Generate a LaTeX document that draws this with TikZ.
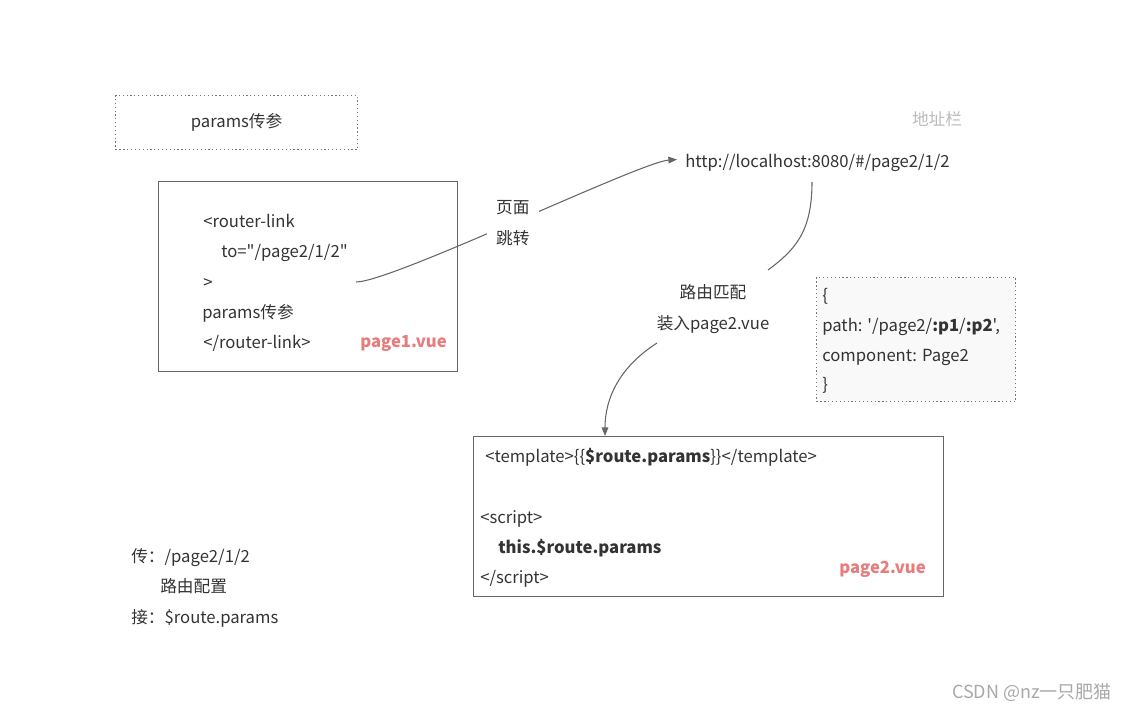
\documentclass[tikz,border=0pt]{standalone}
\usepackage{fontspec}
\setmainfont{Noto Sans CJK SC}[Ligatures=TeXOff]
\usetikzlibrary{arrows.meta}
\definecolor{txt}{HTML}{333333}
\definecolor{edgec}{HTML}{666666}
\definecolor{tagc}{HTML}{E67C7C}
\definecolor{grayc}{HTML}{BBBBBB}
\definecolor{wmc}{HTML}{A8A8A8}
\definecolor{fillc}{HTML}{F9F9F9}
\begin{document}
\begin{tikzpicture}[x=0.75pt,y=-0.75pt,
  every node/.style={font=\fontsize{12.5}{14}\selectfont, text=txt, inner sep=0pt},
  lbl/.style={anchor=base west},
  box/.style={draw=edgec, line width=0.8pt, anchor=north west},
  dotbox/.style={draw=edgec!90, dotted, line width=0.9pt, anchor=north west},
  conn/.style={draw=edgec, line width=0.8pt},
  tip/.style={-{Triangle[length=6.5pt,width=5pt]}},
  tag/.style={font=\fontsize{12.5}{14}\selectfont\bfseries, text=tagc, anchor=base west}]
\useasboundingbox (0,0) rectangle (1128,711);

% top dashed title box
\node[dotbox, minimum width=181.5pt, minimum height=40.5pt, align=center] (title) at (115,95) {params传参};

% page1 box
\node[box, minimum width=224.25pt, minimum height=142.5pt] (page1) at (158,181) {};
\node[lbl] (p1a) at (203,227) {<router-link};
\node[lbl] (p1b) at (221,257) {to="/page2/1/2"};
\node[lbl] (p1c) at (203,288) {>};
\node[lbl] (p1d) at (202,318) {params传参};
\node[lbl] (p1e) at (203,348) {</router-link>};
\node[tag] (tag1) at (360,347) {page1.vue};

% url
\node[lbl] (url) at (685,167) {http://localhost:8080/\#/page2/1/2};
\node[text=grayc] (addr) at (937,119) {地址栏};

% connector page1 -> url
\coordinate (c1) at (356,282);
\draw[conn, tip, shorten >=6pt] (c1) .. controls (392,282) and (640,162) .. (url.west |- 0,159)
  node[pos=0.49, fill=white, inner xsep=7pt, inner ysep=2pt, align=center,
       font=\fontsize{12.5}{23}\selectfont] (jump) {页面\\跳转};

% connector url -> match label
\coordinate (c2a) at (812,182);
\coordinate (c2b) at (768,270);
\draw[conn] (c2a) .. controls (812,232) and (795,250) .. (c2b);

% match label
\node[anchor=base] (m1) at (713,298) {路由匹配};
\node[anchor=base] (m2) at (713,329) {装入page2.vue};

% route config box
\node[dotbox, fill=fillc, minimum width=149.25pt, minimum height=93pt] (route) at (816,277) {};
\node[lbl] (r1) at (822,301) {\{};
\node[lbl] (r2) at (822,331) {path: '/page2/\textbf{:p1}/\textbf{:p2}',};
\node[lbl] (r3) at (822,361) {component: Page2};
\node[lbl] (r4) at (822,390) {\}};

% page2 box
\node[box, minimum width=352.5pt, minimum height=120pt] (page2) at (473,436) {};
\node[lbl] (q1) at (485,462) {<template>\{\{\textbf{\$route.params}\}\}</template>};
\node[lbl] (q2) at (480,523) {<script>};
\node[lbl] (q3) at (498,553) {\textbf{this.\$route.params}};
\node[lbl] (q4) at (480,583) {</script>};
\node[tag] (tag2) at (839,573) {page2.vue};

% connector match -> page2
\coordinate (c3a) at (657,343);
\coordinate (c3b) at (605,436);
\draw[conn, tip] (c3a) .. controls (618,368) and (605,400) .. (c3b);

% bottom-left notes
\node[lbl] (n1) at (131,562) {传：/page2/1/2};
\node[lbl] (n2) at (160,592) {路由配置};
\node[lbl] (n3) at (131,623) {接：\$route.params};

% watermark
\node[anchor=base east, text=wmc, font=\fontsize{13.5}{15}\selectfont] (wm) at (1112,698) {CSDN @nz一只肥猫};
\end{tikzpicture}
\end{document}
